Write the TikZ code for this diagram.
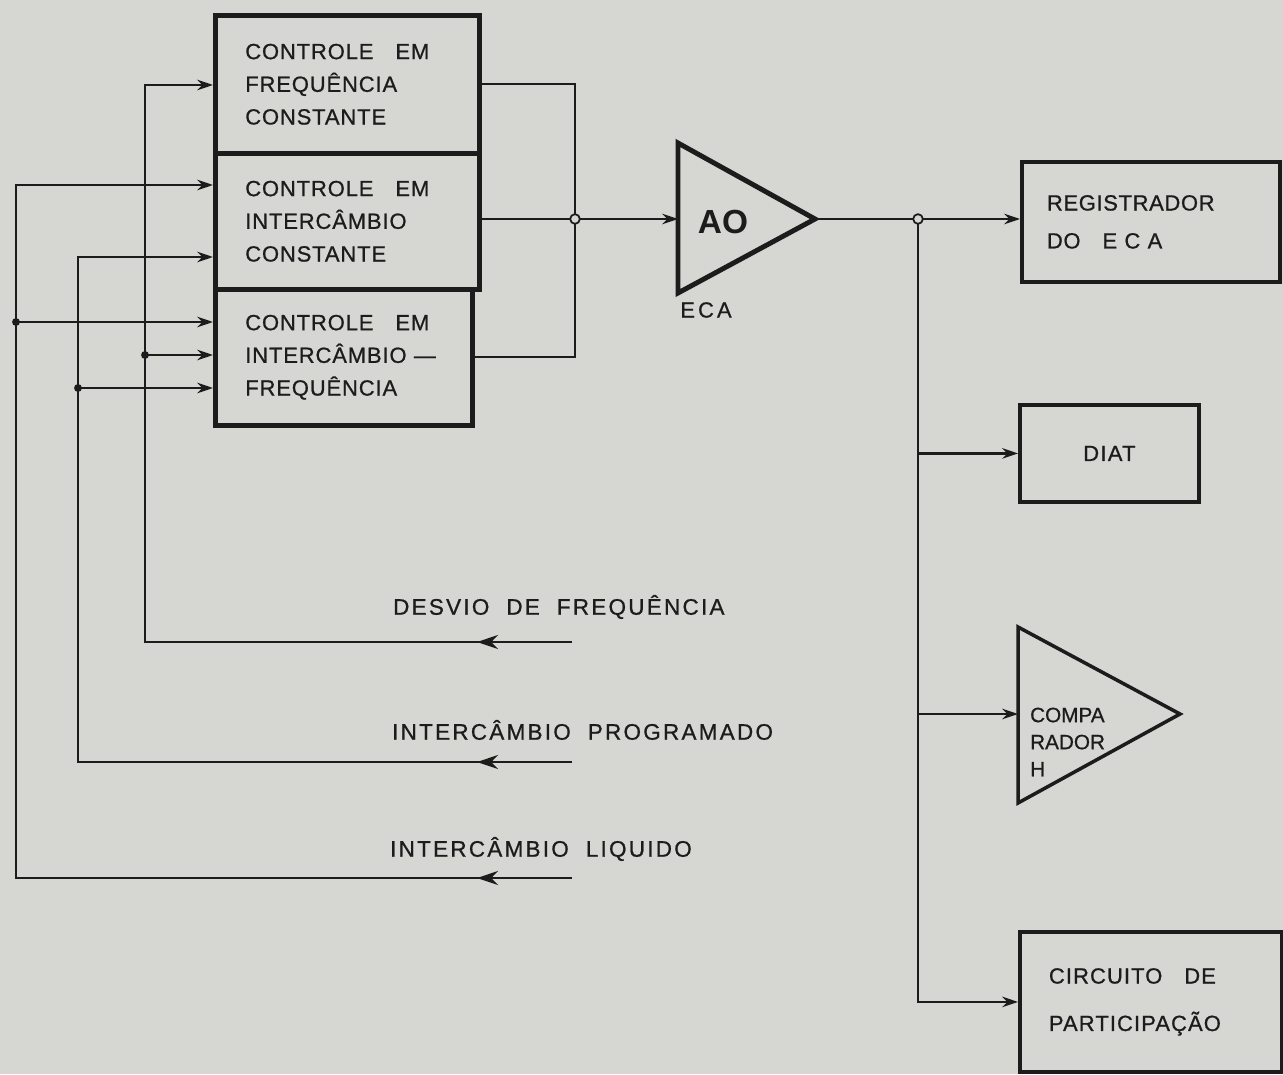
\documentclass[tikz,border=0pt]{standalone}
\usepackage{fontspec}
\setmainfont{Liberation Sans}
\usetikzlibrary{arrows.meta, positioning, decorations.markings}

\definecolor{paper}{RGB}{214,214,211}
\definecolor{ink}{RGB}{28,28,28}

\newcommand{\boxfont}{\fontsize{12.5}{18.6}\selectfont\addfontfeatures{LetterSpace=4,FakeBold=0.8}}
\newcommand{\sigfont}{\fontsize{12.8}{15}\selectfont\addfontfeatures{LetterSpace=10,FakeBold=0.8}}

\begin{document}
\begin{tikzpicture}[x=0.02cm,y=-0.02cm,color=ink,line width=1.3pt,
    >={Stealth[length=9pt,width=6pt]},
    ctrl/.style={draw,line width=2.6pt,anchor=north west,inner xsep=0.6cm,inner ysep=0pt,
      align=left,font=\boxfont},
    outbox/.style={draw,line width=2.2pt,anchor=north west,inner ysep=0pt,align=left},
    amp/.style={draw,line width=2.8pt,line join=miter},
    sig/.style={anchor=west,inner sep=0pt,font=\sigfont},
    dot/.style={circle,fill=ink,inner sep=0pt,minimum size=4.5pt},
    node/.style={circle,draw,fill=paper,line width=1pt,inner sep=0pt,minimum size=5.5pt},
    midarrow/.style={postaction={decorate},decoration={markings,
      mark=at position 1.9cm with {\arrow{Stealth[length=12pt,width=8pt]}}}}]

  \fill[paper] (0,0) rectangle (1283,1074);
  \useasboundingbox (0,0) rectangle (1283,1074);

  % control blocks
  \node[ctrl,minimum width=5.28cm,minimum height=2.76cm,text width=4.08cm] (fc) at (213,13)
    {CONTROLE\quad EM\\FREQUÊNCIA\\CONSTANTE};
  \node[ctrl,minimum width=5.28cm,minimum height=2.72cm,text width=4.08cm] (ic) at (213,151)
    {CONTROLE\quad EM\\INTERCÂMBIO\\CONSTANTE};
  \node[ctrl,minimum width=5.14cm,minimum height=2.72cm,text width=3.94cm] (fi) at (213,287)
    {CONTROLE\quad EM\\INTERCÂMBIO —\\FREQUÊNCIA};

  % amplifier
  \draw[amp] (678,143) -- (815,219) -- (678,293) -- cycle;
  \coordinate (aoin) at (678,219);
  \coordinate (aoout) at (815,219);
  \node[font=\fontsize{19}{19}\selectfont\bfseries] (ao) at (723,222) {AO};
  \node[font=\fontsize{12.5}{14}\selectfont\addfontfeatures{LetterSpace=14,FakeBold=0.8}] (eca) at (706,310) {ECA};

  % outputs
  \node[outbox,minimum width=5.16cm,minimum height=2.4cm,inner xsep=0.5cm,text width=4.16cm,
    font=\fontsize{12.5}{21.6}\selectfont\addfontfeatures{LetterSpace=3,FakeBold=0.8}] (reg) at (1020,160)
    {REGISTRADOR\\DO\quad E C A};
  \node[outbox,minimum width=3.58cm,minimum height=1.94cm,align=center,
    font=\fontsize{12.5}{14}\selectfont\addfontfeatures{LetterSpace=6,FakeBold=0.8}] (diat) at (1018,403) {DIAT};
  \draw[amp,line width=2pt] (1018,627) -- (1180,714) -- (1018,803) -- cycle;
  \coordinate (cmpin) at (1018,714);
  \node[anchor=west,inner sep=0pt,align=left,font=\fontsize{11.8}{15.4}\selectfont\addfontfeatures{FakeBold=0.8}] (cmp) at (1029,742)
    {COMPA\\RADOR\\H};
  \node[outbox,minimum width=5.24cm,minimum height=2.8cm,inner xsep=0.58cm,text width=4.08cm,
    font=\fontsize{12.5}{27}\selectfont\addfontfeatures{LetterSpace=5,FakeBold=0.8}] (circ) at (1018,930)
    {CIRCUITO\quad DE\\PARTICIPAÇÃO};

  % input signals
  \node[sig] (desv) at (392,607) {DESVIO~~DE~~FREQUÊNCIA};
  \node[sig] (prog) at (391,730) {INTERCÂMBIO~~PROGRAMADO};
  \node[sig] (liq) at (389,849) {INTERCÂMBIO~~LIQUIDO};

  \coordinate (dfin) at (572,642);
  \coordinate (pgin) at (572,762);
  \coordinate (lqin) at (572,878);
  \coordinate (busC) at (145,85);
  \coordinate (busB) at (78,257);
  \coordinate (busA) at (16,185);
  \coordinate (jC) at (145,355);
  \coordinate (jB) at (78,388);
  \coordinate (jA) at (16,322);

  \draw[->,midarrow] (dfin) -| (busC) -- (fc.west |- busC);
  \draw[->,midarrow] (pgin) -| (busB) -- (ic.west |- busB);
  \draw[->,midarrow] (lqin) -| (busA) -- (ic.west |- busA);
  \draw[->] (jA) -- (fi.west |- jA);
  \draw[->] (jC) -- (fi.west |- jC);
  \draw[->] (jB) -- (fi.west |- jB);

  % summing point
  \coordinate (sum) at (575,219);
  \draw (fc.east |- 0,84) -| (sum);
  \draw (fi.east) -| (sum);
  \draw (ic.east |- sum) -- (sum);
  \draw[->] (sum) -- (aoin);

  % distribution
  \coordinate (tap) at (918,219);
  \draw (aoout) -- (tap);
  \draw[->] (tap) -- (tap -| reg.west);
  \draw[->] (tap) |- (circ.west);
  \draw[->] (tap |- diat.west) -- (diat.west);
  \draw[->] (tap |- cmpin) -- (cmpin);

  \foreach \j in {jA,jB,jC} \node[dot] at (\j) {};
  \node[node] at (sum) {};
  \node[node] at (tap) {};
\end{tikzpicture}
\end{document}
